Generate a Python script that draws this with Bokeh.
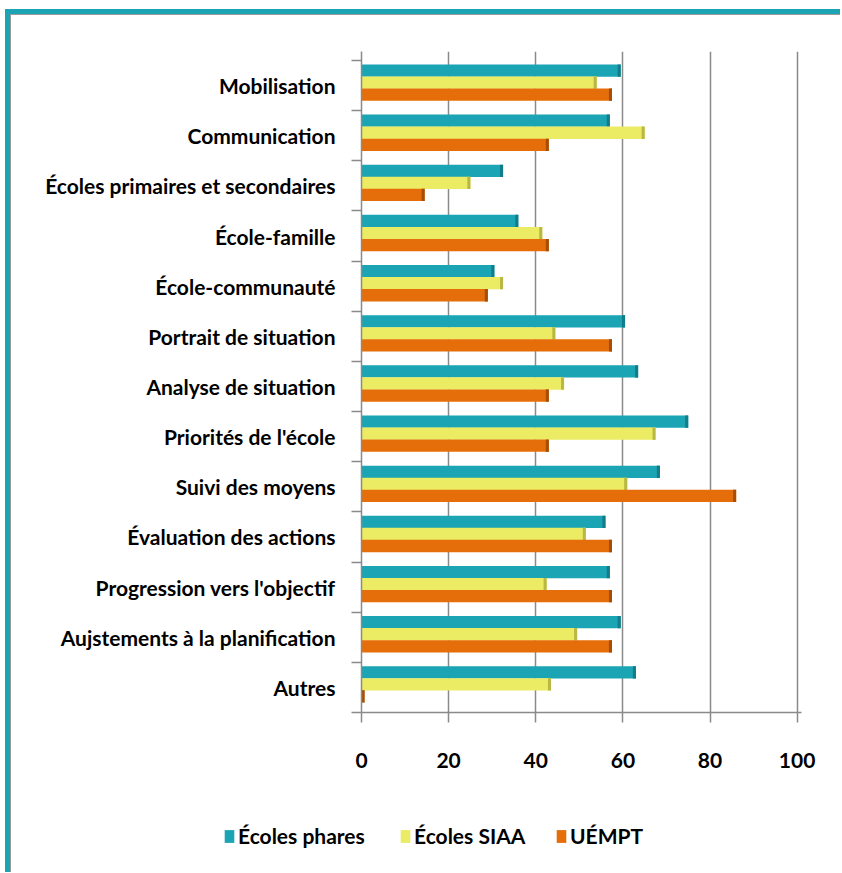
from bokeh.plotting import figure
from bokeh.layouts import column
from bokeh.models import (Range1d, FixedTicker, LinearAxis, Legend, LegendItem,
                          ColumnDataSource)
from bokeh.embed import file_html
from bokeh.resources import INLINE

categories = ["Mobilisation", "Communication", "Écoles primaires et secondaires",
              "École-famille", "École-communauté", "Portrait de situation",
              "Analyse de situation", "Priorités de l'école", "Suivi des moyens",
              "Évaluation des actions", "Progression vers l'objectif",
              "Aujstements à la planification", "Autres"]
phares = [59.5, 57, 32.5, 36, 30.5, 60.5, 63.5, 75, 68.5, 56, 57, 59.5, 63]
siaa = [54, 65, 25, 41.5, 32.5, 44.5, 46.5, 67.5, 61, 51.5, 42.5, 49.5, 43.5]
uempt = [57.5, 43, 14.5, 43, 29, 57.5, 43, 43, 86, 57.5, 57.5, 57.5, 0.7]
series_names = ["Écoles phares", "Écoles SIAA", "UÉMPT"]
x_ticks = [0, 20, 40, 60, 80, 100]

colors = ["#1AA4B4", "#EBEB64", "#E66E0A"]
dark = ["#127C88", "#B8B845", "#A44E06"]
offsets = [0.30, 0.06, -0.18]
bar_h = 0.245
legend_x = [213, 389, 545]

FONT = "Lato"
W, H = 830, 798
n = len(categories)
ypos = [n - 1 - i for i in range(n)]

p = figure(width=W, height=H, output_backend="svg", toolbar_location=None,
           x_range=Range1d(0, 101), y_range=Range1d(-0.5, n - 0.32),
           min_border_left=351, min_border_right=39, min_border_top=37,
           min_border_bottom=100, x_axis_location=None, y_axis_location=None)
p.frame_align = False
p.outline_line_color = None
p.background_fill_color = "white"
p.border_fill_alpha = 0

sources = []
for k, vals in enumerate([phares, siaa, uempt]):
    src = ColumnDataSource(dict(y=[yy + offsets[k] for yy in ypos], right=vals,
                                capl=[max(v - 0.7, 0) for v in vals]))
    sources.append(src)
    p.hbar(y="y", left=0, right="right", height=bar_h, source=src,
           fill_color=colors[k], line_color=None)
    p.hbar(y="y", left="capl", right="right", height=bar_h, source=src,
           fill_color=dark[k], line_color=None)

gray = "#8A8A8A"
# x axis
xa = LinearAxis(ticker=FixedTicker(ticks=x_ticks))
xa.axis_line_color = gray
xa.axis_line_width = 1.5
xa.major_tick_line_color = gray
xa.major_tick_line_width = 1.5
xa.major_tick_out = 10
xa.major_tick_in = 0
xa.minor_tick_line_color = None
xa.major_label_standoff = 30
xa.major_label_text_font = FONT
xa.major_label_text_font_style = "bold"
xa.major_label_text_font_size = "21px"
xa.major_label_text_color = "black"
p.add_layout(xa, "below")

# y axis
ya = LinearAxis(ticker=FixedTicker(ticks=ypos, minor_ticks=[i - 0.5 for i in range(n + 1)]))
ya.major_label_overrides = {yy: categories[i] for i, yy in enumerate(ypos)}
ya.axis_line_color = gray
ya.axis_line_width = 1.5
ya.major_tick_line_color = None
ya.major_tick_out = 0
ya.major_tick_in = 0
ya.minor_tick_line_color = gray
ya.minor_tick_line_width = 1.5
ya.minor_tick_out = 10
ya.minor_tick_in = 0
ya.major_label_standoff = 16
ya.major_label_text_font = FONT
ya.major_label_text_font_style = "bold"
ya.major_label_text_font_size = "21px"
ya.major_label_text_color = "black"
p.add_layout(ya, "left")

p.xgrid.ticker = FixedTicker(ticks=x_ticks[1:])
p.xgrid.grid_line_color = gray
p.xgrid.grid_line_width = 1.5
p.ygrid.grid_line_color = None

# legend strip (its bar renderers lie outside its own visible range)
LH = 60
pl = figure(width=W, height=LH, output_backend="svg", toolbar_location=None,
            x_range=Range1d(-3, -2), y_range=Range1d(0, 1), min_border=0,
            x_axis_location=None, y_axis_location=None)
pl.frame_align = False
pl.outline_line_color = None
pl.background_fill_alpha = 0
pl.border_fill_alpha = 0
pl.grid.grid_line_color = None
for k in range(3):
    r = pl.hbar(y="y", left=0, right="right", height=bar_h, source=sources[k],
                fill_color=colors[k], line_color=None)
    lg = Legend(items=[LegendItem(label=series_names[k], renderers=[r])],
                orientation="horizontal", location=(legend_x[k], 24))
    lg.border_line_color = None
    lg.background_fill_alpha = 0
    lg.glyph_width = 12
    lg.glyph_height = 16
    lg.label_standoff = 3
    lg.padding = 0
    lg.margin = 0
    lg.label_text_font = FONT
    lg.label_text_font_style = "bold"
    lg.label_text_font_size = "21px"
    lg.label_text_color = "black"
    pl.add_layout(lg, "center")

layout = column(p, pl, spacing=0)
layout.styles = {"margin-left": "5px", "margin-top": "9px",
                 "border-left": "5px solid #1AA4B4", "border-top": "5px solid #1AA4B4",
                 "box-shadow": "inset 1px 1px 0 0 #9A9A9A"}

open("out.html", "w").write(file_html(layout, INLINE))
